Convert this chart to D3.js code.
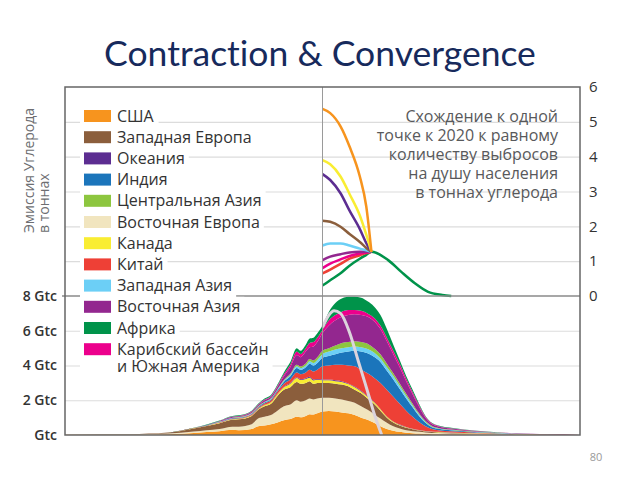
<!DOCTYPE html>
<html>
<head>
<meta charset="utf-8">
<script src="https://cdn.jsdelivr.net/npm/d3@7"></script>
<style>
  body { margin: 0; background: #fff; }
  svg { display: block; font-family: "Open Sans", "Noto Sans", sans-serif; }
</style>
</head>
<body>
<div id="chart"></div>
<script>
// regions in legend order
const regions = [
  "США", "Западная Европа", "Океания", "Индия", "Центральная Азия",
  "Восточная Европа", "Канада", "Китай", "Западная Азия",
  "Восточная Азия", "Африка", "Карибский бассейн|и Южная Америка"
];
const regionColors = [
  "#f7941e", "#8b5e3c", "#5c2d91", "#1b75bb", "#8dc63f",
  "#f1e5bf", "#f9ed32", "#ee4036", "#6ccff6",
  "#93278f", "#00934a", "#ec008c"
];

// order of the bands from the bottom of the stack
const stackOrder = [0, 5, 1, 6, 2, 7, 3, 8, 4, 9, 11, 10];

// years of the emission stack (Gtc)
const emissionYears = [
  1800, 1850, 1880, 1900, 1910, 1920, 1930, 1935, 1945, 1950, 1955, 1960,
  1965, 1970, 1975, 1980, 1983, 1987, 1990, 1993, 1996, 2000, 2005, 2010,
  2015, 2020, 2025, 2030, 2035, 2040, 2045, 2050, 2055, 2060, 2065, 2070,
  2075, 2080, 2085, 2090, 2100, 2120, 2150, 2175, 2200
];

// upper edge of each band, one row per year (stack order)
const bandTops = [
  [0.01, 0.01, 0.02, 0.02, 0.02, 0.02, 0.02, 0.02, 0.02, 0.02, 0.02, 0.02],
  [0.02, 0.03, 0.05, 0.05, 0.05, 0.05, 0.05, 0.05, 0.05, 0.05, 0.05, 0.05],
  [0.05, 0.08, 0.14, 0.14, 0.14, 0.14, 0.14, 0.14, 0.14, 0.14, 0.14, 0.14],
  [0.12, 0.2, 0.38, 0.39, 0.39, 0.4, 0.4, 0.4, 0.4, 0.41, 0.41, 0.42],
  [0.17, 0.27, 0.52, 0.53, 0.54, 0.55, 0.56, 0.56, 0.56, 0.58, 0.58, 0.6],
  [0.22, 0.35, 0.68, 0.7, 0.71, 0.73, 0.75, 0.76, 0.77, 0.8, 0.81, 0.83],
  [0.3, 0.48, 0.88, 0.91, 0.92, 0.95, 0.98, 0.99, 1.0, 1.05, 1.07, 1.1],
  [0.27, 0.48, 0.9, 0.93, 0.94, 0.97, 1.0, 1.01, 1.03, 1.08, 1.1, 1.13],
  [0.35, 0.62, 1.1, 1.14, 1.15, 1.19, 1.23, 1.25, 1.27, 1.33, 1.36, 1.4],
  [0.5, 0.95, 1.45, 1.5, 1.52, 1.57, 1.61, 1.63, 1.65, 1.73, 1.76, 1.8],
  [0.55, 1.05, 1.65, 1.72, 1.74, 1.82, 1.87, 1.89, 1.91, 2.0, 2.04, 2.1],
  [0.62, 1.15, 1.8, 1.88, 1.9, 2.0, 2.06, 2.08, 2.11, 2.2, 2.25, 2.3],
  [0.72, 1.4, 2.25, 2.35, 2.37, 2.5, 2.57, 2.6, 2.64, 2.77, 2.83, 2.9],
  [0.85, 1.65, 2.6, 2.75, 2.78, 2.95, 3.07, 3.12, 3.17, 3.38, 3.49, 3.6],
  [0.92, 1.75, 2.75, 2.95, 2.99, 3.2, 3.38, 3.45, 3.52, 3.9, 4.05, 4.2],
  [1.05, 2.0, 3.05, 3.28, 3.32, 3.6, 3.85, 3.95, 4.05, 4.6, 4.8, 5.0],
  [1.02, 1.92, 2.95, 3.16, 3.21, 3.5, 3.75, 3.85, 3.95, 4.48, 4.66, 4.85],
  [1.1, 2.0, 3.0, 3.22, 3.27, 3.6, 3.9, 4.0, 4.12, 4.8, 5.0, 5.2],
  [1.2, 2.1, 3.1, 3.3, 3.35, 3.75, 4.1, 4.25, 4.38, 5.05, 5.3, 5.55],
  [1.18, 2.05, 2.95, 3.14, 3.19, 3.65, 4.0, 4.15, 4.3, 5.1, 5.35, 5.6],
  [1.25, 2.1, 3.0, 3.18, 3.23, 3.75, 4.15, 4.32, 4.48, 5.35, 5.6, 5.85],
  [1.35, 2.15, 3.0, 3.15, 3.2, 3.95, 4.45, 4.65, 4.85, 5.85, 6.05, 6.3],
  [1.38, 2.15, 3.0, 3.15, 3.2, 4.0, 4.55, 4.8, 5.0, 6.3, 6.6, 7.1],
  [1.35, 2.1, 2.95, 3.1, 3.15, 4.05, 4.65, 4.92, 5.15, 6.6, 6.9, 7.6],
  [1.3, 2.05, 2.9, 3.05, 3.1, 4.05, 4.75, 5.0, 5.3, 6.8, 7.1, 7.85],
  [1.25, 1.95, 2.8, 2.93, 2.97, 4.0, 4.8, 5.05, 5.35, 6.9, 7.2, 7.95],
  [1.15, 1.85, 2.6, 2.75, 2.79, 3.95, 4.85, 5.1, 5.4, 6.95, 7.2, 7.95],
  [1.0, 1.65, 2.4, 2.5, 2.54, 3.75, 4.8, 5.05, 5.35, 6.9, 7.15, 7.9],
  [0.88, 1.45, 2.1, 2.2, 2.24, 3.55, 4.7, 4.95, 5.25, 6.8, 7.0, 7.7],
  [0.7, 1.2, 1.8, 1.88, 1.92, 3.3, 4.5, 4.75, 5.0, 6.55, 6.75, 7.4],
  [0.5, 0.95, 1.4, 1.48, 1.5, 3.0, 4.2, 4.4, 4.65, 6.1, 6.3, 6.9],
  [0.35, 0.7, 1.0, 1.05, 1.07, 2.6, 3.7, 3.9, 4.1, 5.4, 5.6, 6.1],
  [0.25, 0.5, 0.72, 0.76, 0.78, 2.2, 3.2, 3.4, 3.55, 4.65, 4.85, 5.2],
  [0.18, 0.38, 0.55, 0.58, 0.6, 1.8, 2.65, 2.82, 2.97, 3.9, 4.1, 4.3],
  [0.13, 0.28, 0.42, 0.45, 0.46, 1.4, 2.1, 2.25, 2.37, 3.1, 3.25, 3.4],
  [0.1, 0.22, 0.33, 0.35, 0.36, 1.05, 1.6, 1.7, 1.8, 2.35, 2.48, 2.6],
  [0.08, 0.18, 0.26, 0.28, 0.29, 0.75, 1.1, 1.18, 1.25, 1.62, 1.72, 1.8],
  [0.06, 0.14, 0.2, 0.22, 0.23, 0.5, 0.7, 0.75, 0.8, 1.0, 1.05, 1.1],
  [0.05, 0.12, 0.17, 0.19, 0.2, 0.35, 0.45, 0.48, 0.52, 0.63, 0.67, 0.7],
  [0.05, 0.11, 0.15, 0.17, 0.18, 0.28, 0.36, 0.38, 0.41, 0.49, 0.52, 0.55],
  [0.04, 0.09, 0.12, 0.13, 0.14, 0.21, 0.27, 0.29, 0.31, 0.37, 0.39, 0.42],
  [0.03, 0.07, 0.09, 0.1, 0.1, 0.13, 0.16, 0.17, 0.18, 0.21, 0.23, 0.25],
  [0.02, 0.04, 0.05, 0.055, 0.06, 0.07, 0.08, 0.085, 0.09, 0.095, 0.1, 0.1],
  [0.01, 0.02, 0.025, 0.027, 0.028, 0.03, 0.033, 0.035, 0.036, 0.038, 0.04, 0.04],
  [0, 0, 0, 0, 0, 0, 0, 0, 0, 0, 0, 0]
];

// global path (light grey line in the lower panel, Gtc)
const globalYears = [2000, 2005, 2009, 2014, 2021, 2028, 2033, 2037, 2040, 2046];
const globalPath = [6.2, 6.9, 7.15, 7.0, 5.9, 4.2, 3.0, 2.0, 1.25, 0];

// per capita emissions converging (tonnes of carbon)
const convergenceYears = [2000, 2006, 2014, 2021, 2029, 2034, 2038];
const perCapitaUSA = [5.37, 5.25, 4.87, 4.29, 3.43, 2.57, 1.27];
const perCapitaCanada = [3.9, 3.78, 3.43, 2.93, 2.31, 1.76, 1.27];
const perCapitaOceania = [3.5, 3.33, 2.95, 2.45, 1.92, 1.52, 1.27];
const perCapitaWEurope = [2.16, 2.13, 1.99, 1.78, 1.55, 1.38, 1.27];
const perCapitaWAsia = [1.45, 1.51, 1.51, 1.45, 1.36, 1.31, 1.27];
const perCapitaEAsia = [1.03, 1.13, 1.2, 1.25, 1.27, 1.27, 1.27];
const perCapitaCarib = [0.8, 0.93, 1.05, 1.15, 1.22, 1.25, 1.27];
const perCapitaChina = [0.65, 0.76, 0.92, 1.07, 1.17, 1.23, 1.27];
const africaYears = [2000, 2006, 2014, 2021, 2029, 2034, 2038, 2051, 2061, 2072, 2082, 2093, 2100];
const perCapitaAfrica = [0.3, 0.45, 0.65, 0.87, 1.07, 1.18, 1.27, 1.03, 0.7, 0.36, 0.12, 0.03, 0];

const topTicks = [0, 1, 2, 3, 4, 5, 6];
const bottomTicks = [0, 2, 4, 6, 8];
const noteLines = [
  "Схождение к одной",
  "точке к 2020 к равному",
  "количеству выбросов",
  "на душу населения",
  "в тоннах углерода"
];

const width = 640;
const height = 480;
const frame = { left: 65, right: 580, top: 87, bottom: 435 };
const divider = 296;

const svg = d3
  .select("#chart")
  .append("svg")
  .attr("width", width)
  .attr("height", height);

// scales
const xScale = d3.scaleLinear().domain([1800, 2200]).range([frame.left, frame.right]);
const yTop = d3.scaleLinear().domain([0, 6]).range([divider, frame.top]);
const yBottom = d3.scaleLinear().domain([0, 8]).range([frame.bottom, divider]);

// title
svg
  .append("text")
  .attr("x", 320)
  .attr("y", 66)
  .attr("text-anchor", "middle")
  .attr("font-family", "Lato, 'Open Sans', sans-serif")
  .attr("font-size", 35.5)
  .attr("fill", "#172a5c")
  .style("font-variant-ligatures", "none")
  .text("Contraction & Convergence");

// grids
svg
  .append("g")
  .attr("class", "grid")
  .attr("transform", `translate(${frame.left},0)`)
  .call(d3.axisLeft(yTop).tickValues([1, 2, 3, 4, 5]).tickSize(-(frame.right - frame.left)).tickFormat(""));
svg
  .append("g")
  .attr("class", "grid")
  .attr("transform", `translate(${frame.left},0)`)
  .call(d3.axisLeft(yBottom).tickValues([2, 4, 6]).tickSize(-(frame.right - frame.left)).tickFormat(""));
svg.selectAll(".grid .domain").remove();
svg.selectAll(".grid line").attr("stroke", "#dcdcdc").attr("stroke-width", 1.2);

// stacked emissions
const stackKeys = stackOrder.map((d) => "r" + d);
const stackRows = emissionYears.map((year, i) => {
  const row = { year };
  bandTops[i].forEach((top, j) => {
    row["r" + stackOrder[j]] = top - (j ? bandTops[i][j - 1] : 0);
  });
  return row;
});
const series = d3.stack().keys(stackKeys)(stackRows);

const area = d3
  .area()
  .x((d) => xScale(d.data.year))
  .y0((d) => yBottom(d[0]))
  .y1((d) => yBottom(d[1]))
  .curve(d3.curveMonotoneX);

svg
  .append("g")
  .selectAll("path")
  .data(series)
  .enter()
  .append("path")
  .attr("fill", (d) => regionColors[+d.key.slice(1)])
  .attr("d", area);

// global path
const globalLine = d3
  .line()
  .x((d, i) => xScale(globalYears[i]))
  .y((d) => yBottom(d))
  .curve(d3.curveMonotoneX);
svg
  .append("path")
  .datum(globalPath)
  .attr("fill", "none")
  .attr("stroke", "#dcd3dc")
  .attr("stroke-width", 3)
  .attr("d", globalLine);

// per capita convergence lines
const perCapitaLines = [
  { color: 0, years: convergenceYears, values: perCapitaUSA },
  { color: 6, years: convergenceYears, values: perCapitaCanada },
  { color: 2, years: convergenceYears, values: perCapitaOceania },
  { color: 1, years: convergenceYears, values: perCapitaWEurope },
  { color: 8, years: convergenceYears, values: perCapitaWAsia },
  { color: 9, years: convergenceYears, values: perCapitaEAsia },
  { color: 11, years: convergenceYears, values: perCapitaCarib },
  { color: 7, years: convergenceYears, values: perCapitaChina },
  { color: 10, years: africaYears, values: perCapitaAfrica }
];
svg
  .append("g")
  .selectAll("path")
  .data(perCapitaLines.slice().reverse())
  .enter()
  .append("path")
  .attr("fill", "none")
  .attr("stroke", (d) => regionColors[d.color])
  .attr("stroke-width", 2.5)
  .attr("d", (d) =>
    d3
      .line()
      .x((v, i) => xScale(d.years[i]))
      .y((v) => yTop(v))
      .curve(d3.curveMonotoneX)(d.values)
  );

// now marker and divider
svg
  .append("line")
  .attr("x1", xScale(2000))
  .attr("x2", xScale(2000))
  .attr("y1", frame.top)
  .attr("y2", frame.bottom)
  .attr("stroke", "#9a9a9a")
  .attr("stroke-width", 1);
svg
  .append("line")
  .attr("x1", frame.left - 3)
  .attr("x2", frame.right)
  .attr("y1", divider)
  .attr("y2", divider)
  .attr("stroke", "#8a8a8a")
  .attr("stroke-width", 1.5);

// frame
svg
  .append("rect")
  .attr("x", frame.left)
  .attr("y", frame.top)
  .attr("width", frame.right - frame.left)
  .attr("height", frame.bottom - frame.top)
  .attr("fill", "none")
  .attr("stroke", "#666")
  .attr("stroke-width", 1.5);

// legend
const legend = svg.append("g");
regions.forEach((name, i) => {
  const cy = 116 + i * 21.2;
  const lines = name.split("|");
  const g = legend.append("g");
  const bg = g.append("rect").attr("fill", "#fff");
  g.append("rect")
    .attr("x", 84)
    .attr("y", cy - 6)
    .attr("width", 27)
    .attr("height", 12)
    .attr("fill", regionColors[i]);
  const t = g
    .append("text")
    .attr("x", 117)
    .attr("y", cy + 5.5)
    .attr("font-size", 16)
    .attr("fill", "#333");
  lines.forEach((l, k) => {
    t.append("tspan").attr("x", 117).attr("dy", k ? 17.7 : 0).text(l);
  });
  const box = t.node().getBBox();
  bg.attr("x", 80)
    .attr("y", cy - 10)
    .attr("width", box.x + box.width + 4 - 80)
    .attr("height", box.y + box.height - (cy - 10) + 1);
});

// note in the upper right
svg
  .append("text")
  .attr("text-anchor", "end")
  .attr("font-size", 16)
  .attr("fill", "#58595b")
  .selectAll("tspan")
  .data(noteLines)
  .enter()
  .append("tspan")
  .attr("x", 558)
  .attr("y", (d, i) => 121.5 + i * 19)
  .text((d) => d);

// right axis: per capita tonnes
const rightAxis = svg
  .append("g")
  .attr("transform", `translate(${frame.right},0)`)
  .call(d3.axisRight(yTop).tickValues(topTicks).tickSize(0).tickPadding(9).tickFormat(d3.format("d")));
rightAxis.select(".domain").remove();
rightAxis
  .selectAll("text")
  .attr("font-family", "'Open Sans', sans-serif")
  .attr("font-size", 15)
  .attr("fill", "#333");

// left axis: Gtc
const leftAxis = svg
  .append("g")
  .attr("transform", `translate(${frame.left},0)`)
  .call(
    d3
      .axisLeft(yBottom)
      .tickValues(bottomTicks)
      .tickSize(0)
      .tickPadding(8)
      .tickFormat((d) => (d ? d + " Gtc" : "Gtc"))
  );
leftAxis.select(".domain").remove();
leftAxis
  .selectAll("text")
  .attr("font-family", "'Open Sans', sans-serif")
  .attr("font-size", 14)
  .attr("font-weight", 600)
  .attr("fill", "#333");

// y title
const yTitle = svg
  .append("text")
  .attr("transform", "translate(34,233) rotate(-90)")
  .attr("font-size", 14)
  .attr("fill", "#6d6e71");
yTitle.append("tspan").attr("x", 0).attr("y", 0).text("Эмиссия Углерода");
yTitle.append("tspan").attr("x", 0).attr("y", 15).text("в тоннах");

// page number
svg
  .append("text")
  .attr("x", 596)
  .attr("y", 461)
  .attr("text-anchor", "middle")
  .attr("font-size", 11)
  .attr("fill", "#9a9a9a")
  .text("80");
</script>
</body>
</html>
